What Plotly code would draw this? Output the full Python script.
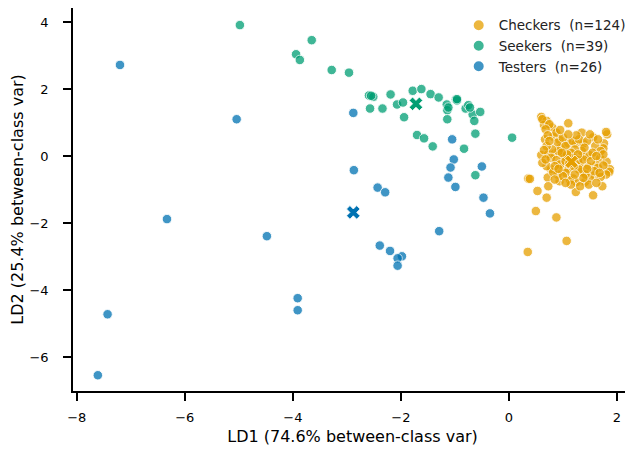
import plotly.graph_objects as go

# ---- data ----
checkers = [
    (0.60, 1.17), (0.70, 1.05), (0.65, 0.93), (1.10, 0.98), (0.80, 0.86), (1.35, 0.70), (1.56, 0.56), (1.82, 0.65), (1.76, 0.38), (1.75, 0.23),
    (0.67, 0.50), (0.82, 0.58), (0.94, 0.48), (0.96, 0.25), (1.10, 0.38), (1.24, 0.38), (1.38, 0.38), (0.60, 0.03), (0.73, 0.06), (0.85, 0.08),
    (1.01, -0.02), (1.44, -0.02), (1.49, 0.03), (1.69, -0.07), (1.81, -0.17), (1.87, -0.39), (1.86, -0.47), (0.78, -0.39), (0.98, -0.42), (1.11, -0.37),
    (1.31, -0.27), (1.47, -0.32), (1.62, -0.27), (1.59, -0.57), (1.35, -0.47), (1.19, -0.67), (1.41, -0.77), (1.25, -0.77), (1.13, -0.72), (0.94, -0.75),
    (0.72, -0.64), (0.36, -0.67), (0.39, -0.68), (0.73, -0.90), (1.73, -0.90), (0.53, -1.04), (1.24, -1.07), (1.56, -1.17), (0.70, -1.24), (0.50, -1.64),
    (0.88, -1.83), (1.07, -2.53), (0.35, -2.86), (1.80, 0.72), (0.62, 1.10),
    (0.75, 0.95), (0.68, 0.80), (0.88, 0.70), (0.72, 0.62), (0.90, 0.40), (1.00, 0.55), (1.05, 0.30), (1.18, 0.45), (1.30, 0.50), (1.45, 0.45),
    (1.60, 0.30), (1.70, 0.15), (1.55, 0.10), (1.35, 0.15), (1.22, 0.20), (1.15, 0.10), (0.92, 0.15), (0.80, 0.20), (0.70, 0.30), (0.65, 0.18),
    (0.78, -0.05), (0.88, -0.12), (0.95, -0.25), (1.05, -0.15), (1.20, -0.05), (1.28, -0.12), (1.38, -0.10), (1.52, -0.15), (1.65, -0.35), (1.75, -0.28),
    (1.80, -0.55), (1.70, -0.62), (1.50, -0.65), (1.42, -0.55), (1.30, -0.40), (1.20, -0.30), (1.05, -0.50), (0.90, -0.55), (0.82, -0.48), (0.70, -0.30),
    (0.62, -0.20), (0.68, -0.10), (0.85, -0.30), (1.00, -0.60), (1.15, -0.85), (1.32, -0.90), (1.48, -0.85), (1.62, -0.80), (1.05, -0.80), (0.85, -0.70),
    (1.25, 0.62), (1.10, 0.65), (0.95, 0.78), (1.50, 0.65), (1.65, 0.50), (1.40, 0.25), (1.28, 0.05), (1.08, 0.05), (0.98, 0.10), (0.75, 0.45),
    (1.58, -0.45), (1.68, -0.50), (1.45, -0.38), (1.12, -0.22), (0.92, -0.38), (1.38, -0.65), (1.22, -0.55), (1.75, 0.05), (1.62, 0.00),
]
seekers = [
    (-4.98, 3.91), (-3.94, 3.04), (-3.87, 2.87), (-3.65, 3.46), (-3.28, 2.57), (-2.96, 2.49), (-2.59, 1.81), (-2.51, 1.77), (-2.19, 1.84), (-1.78, 1.95),
    (-1.62, 2.00), (-1.45, 1.85), (-1.30, 1.75), (-2.57, 1.42), (-2.34, 1.42), (-2.07, 1.54), (-1.96, 1.60), (-1.94, 1.16), (-1.15, 1.54), (-1.14, 1.37),
    (-1.14, 1.10), (-0.98, 1.69), (-0.96, 1.66), (-0.80, 1.42), (-0.75, 1.52), (-0.67, 1.24), (-0.64, 1.05), (-0.53, 1.32), (-0.62, 0.67), (0.06, 0.55),
    (-1.70, 0.63), (-1.57, 0.53), (-1.41, 0.29), (-0.83, 0.22), (-0.62, -0.57), (-2.55, 1.80), (-1.12, 1.45), (-0.72, 1.45), (-0.96, 1.70),
]
testers = [
    (-7.20, 2.72), (-5.04, 1.10), (-6.33, -1.88), (-4.48, -2.39), (-7.43, -4.72), (-7.61, -6.54), (-3.91, -4.24), (-3.91, -4.60), (-2.88, 1.29), (-2.87, -0.42),
    (-2.43, -0.94), (-2.29, -1.08), (-2.39, -2.67), (-2.20, -2.83), (-1.98, -2.99), (-2.06, -3.05), (-2.06, -3.27), (-1.29, -2.24), (-1.05, 0.50), (-1.02, -0.10),
    (-1.08, -0.34), (-1.12, -0.64), (-0.99, -0.92), (-0.50, -0.31), (-0.47, -1.24), (-0.35, -1.71),
]
centroids = {"Checkers": (1.16, -0.17), "Seekers": (-1.72, 1.56), "Testers": (-2.88, -1.68)}

groups = ["Checkers", "Seekers", "Testers"]
points = {"Checkers": checkers, "Seekers": seekers, "Testers": testers}
colors = {"Checkers": "#E69F00", "Seekers": "#009E73", "Testers": "#0072B2"}

x_ticks = [-8, -6, -4, -2, 0, 2]
y_ticks = [-6, -4, -2, 0, 2, 4]


def lab(v):
    return ("\u2212" + str(-v)) if v < 0 else str(v)


fig = go.Figure()
for g in groups:
    pts = points[g]
    fig.add_trace(go.Scatter(
        x=[p[0] for p in pts], y=[p[1] for p in pts], mode="markers",
        name=f"{g}\u00a0 (n={len(pts)})",
        marker=dict(size=9.5, color=colors[g], opacity=0.75,
                    line=dict(color="white", width=0.9)),
    ))
for g in groups:
    cx, cy = centroids[g]
    fig.add_trace(go.Scatter(
        x=[cx], y=[cy], mode="markers", showlegend=False,
        marker=dict(symbol="x", size=12, color=colors[g],
                    line=dict(color="white", width=0.8)),
    ))

axis_common = dict(
    showline=True, linecolor="black", linewidth=1.5, mirror=False,
    showgrid=False, zeroline=False, ticks="outside", ticklen=8, tickwidth=1.5,
    tickcolor="black", tickfont=dict(size=13, color="black", family="DejaVu Sans"),
)
fig.update_xaxes(range=[-8.07, 2.28], tickvals=x_ticks, ticktext=[lab(v) for v in x_ticks],
                 ticklabelstandoff=6,
                 title=dict(text="LD1 (74.6% between-class var)", standoff=6,
                            font=dict(size=16, color="black", family="DejaVu Sans")),
                 **axis_common)
fig.update_yaxes(range=[-7.01, 4.42], tickvals=y_ticks, ticktext=[lab(v) for v in y_ticks],
                 ticklabelstandoff=12,
                 title=dict(text="LD2 (25.4% between-class var)", standoff=8,
                            font=dict(size=16, color="black", family="DejaVu Sans")),
                 **axis_common)
# the page body adds an 8px offset, so the figure is sized 8px smaller
fig.update_layout(
    width=625, height=446, margin=dict(l=65, r=1, t=0, b=63, autoexpand=False),
    plot_bgcolor="white", paper_bgcolor="white",
    font=dict(family="DejaVu Sans", color="black"),
    legend=dict(x=0.69, y=0.995, xanchor="left", yanchor="top",
                bgcolor="rgba(255,255,255,0)", font=dict(size=13.5, color="#222"),
                itemsizing="constant"),
)
fig.write_html("out.html")
